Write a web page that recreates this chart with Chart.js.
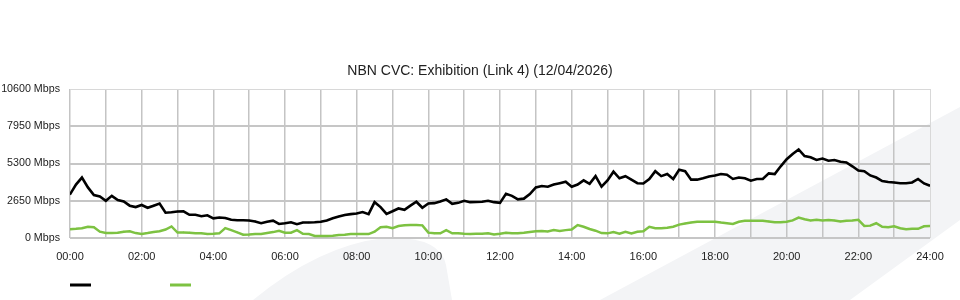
<!DOCTYPE html>
<html>
<head>
<meta charset="utf-8">
<title>NBN CVC: Exhibition (Link 4)</title>
<script src="https://cdn.jsdelivr.net/npm/chart.js@4.4.1/dist/chart.umd.min.js"></script>
<style>
  html, body { margin: 0; padding: 0; background: #fff; }
  #wrap { width: 960px; height: 300px; position: relative; }
</style>
</head>
<body>
<div id="wrap"><canvas id="cvcChart" width="960" height="300"></canvas></div>
<script>
// chart data (10 minute samples, 00:00 .. 24:00)
var chartTitle = 'NBN CVC: Exhibition (Link 4) (12/04/2026)';
var sampleMinutes = 10;
var yTicks = [0, 2650, 5300, 7950, 10600];
var xTickLabels = ['00:00', '02:00', '04:00', '06:00', '08:00', '10:00', '12:00',
                   '14:00', '16:00', '18:00', '20:00', '22:00', '24:00'];

// black series (Mbps)
var seriesA = [
  3100, 3800, 4300, 3600, 3050, 2950, 2650, 3000, 2700, 2600,
  2300, 2200, 2350, 2150, 2300, 2450, 1800, 1830, 1880, 1900,
  1650, 1650, 1550, 1620, 1400, 1460, 1420, 1300, 1260, 1260,
  1240, 1180, 1050, 1150, 1230, 1000, 1050, 1120, 980, 1100,
  1100, 1120, 1160, 1250, 1400, 1530, 1640, 1700, 1740, 1850,
  1700, 2550, 2200, 1720, 1900, 2100, 2000, 2300, 2580, 2150,
  2450, 2480, 2600, 2750, 2430, 2500, 2650, 2550, 2560, 2580,
  2650, 2550, 2500, 3150, 3000, 2750, 2800, 3130, 3600, 3700,
  3650, 3800, 3900, 4000, 3650, 3800, 4100, 3850, 4400, 3650,
  4100, 4720, 4250, 4400, 4150, 3900, 3880, 4200, 4750, 4400,
  4550, 4200, 4850, 4750, 4150, 4150, 4250, 4380, 4450, 4550,
  4500, 4200, 4300, 4250, 4080, 4200, 4200, 4600, 4550, 5100,
  5600, 5980, 6300, 5830, 5740, 5550, 5650, 5500, 5550, 5430,
  5370, 5100, 4800, 4750, 4450, 4300, 4050, 3980, 3950, 3890,
  3900, 3950, 4200, 3880, 3720
];

// green series (Mbps)
var seriesB = [
  620, 650, 690, 800, 760, 450, 350, 360, 380, 450,
  480, 350, 290, 350, 420, 480, 600, 820, 390, 400,
  380, 340, 330, 290, 300, 330, 700, 560, 400, 240,
  250, 280, 290, 360, 420, 520, 380, 380, 560, 300,
  280, 150, 140, 140, 160, 210, 230, 280, 290, 290,
  280, 450, 760, 800, 700, 850, 900, 920, 930, 900,
  380, 330, 330, 560, 330, 330, 300, 290, 300, 300,
  330, 250, 300, 380, 340, 330, 370, 430, 480, 500,
  460, 560, 500, 560, 600, 920, 800, 640, 520, 350,
  330, 420, 310, 440, 330, 450, 480, 800, 700, 700,
  730, 800, 950, 1030, 1100, 1160, 1160, 1160, 1160, 1100,
  1050, 1000, 1150, 1230, 1230, 1230, 1230, 1180, 1120, 1120,
  1160, 1250, 1450, 1330, 1250, 1300, 1240, 1280, 1250, 1180,
  1230, 1250, 1290, 860, 880, 1050, 800, 770, 830, 700,
  620, 650, 650, 830, 850
];

function toPoints(values) {
    var pts = [];
    for (var i = 0; i < values.length; i++) {
        pts.push({ x: i * sampleMinutes, y: values[i] });
    }
    return pts;
}

// light grey swoosh shapes behind the chart
const backgroundShapes = {
    id: 'backgroundShapes',
    beforeDraw(chart) {
        const ctx = chart.ctx;
        ctx.save();
        ctx.fillStyle = '#f3f4f6';
        ctx.beginPath();
        ctx.moveTo(600, 300);
        ctx.lineTo(960, 107);
        ctx.lineTo(960, 220);
        ctx.lineTo(850, 300);
        ctx.closePath();
        ctx.fill();
        ctx.beginPath();
        ctx.moveTo(253, 300);
        ctx.quadraticCurveTo(320, 245, 385, 238);
        ctx.quadraticCurveTo(440, 236, 446, 265);
        ctx.lineTo(452, 300);
        ctx.closePath();
        ctx.fill();
        ctx.restore();
    }
};

// legend: just coloured line samples, no text
const lineLegend = {
    id: 'lineLegend',
    afterDraw(chart) {
        const ctx = chart.ctx;
        const starts = [70, 170];
        ctx.save();
        ctx.lineWidth = 3;
        chart.data.datasets.forEach(function(ds, i) {
            ctx.strokeStyle = ds.borderColor;
            ctx.beginPath();
            ctx.moveTo(starts[i], 285);
            ctx.lineTo(starts[i] + 21, 285);
            ctx.stroke();
        });
        ctx.restore();
    }
};

var ctx = document.getElementById('cvcChart').getContext('2d');
var cvcChart = new Chart(ctx, {
    type: 'line',
    data: {
        datasets: [{
            label: '',
            data: toPoints(seriesA),
            borderColor: '#000000',
            backgroundColor: '#000000',
            borderWidth: 2.6,
            pointRadius: 0.8,
            pointBorderWidth: 0,
            tension: 0
        }, {
            label: '',
            data: toPoints(seriesB),
            borderColor: '#7dc242',
            backgroundColor: '#7dc242',
            borderWidth: 2.5,
            pointRadius: 0.8,
            pointBorderWidth: 0,
            tension: 0
        }]
    },
    options: {
        responsive: false,
        animation: false,
        layout: { padding: { top: 63, right: 0, left: 0, bottom: 0 } },
        plugins: {
            legend: { display: false },
            tooltip: { enabled: false },
            title: {
                display: true,
                text: chartTitle,
                color: '#222',
                font: { family: "'Liberation Sans', Arial, sans-serif", size: 14, weight: 'normal' },
                padding: { top: 0, bottom: 9.2 }
            }
        },
        scales: {
            x: {
                type: 'linear',
                min: 0,
                max: 24 * 60,
                border: { display: false },
                grid: {
                    color: function(c) { return c.tick && c.tick.value === 1440 ? '#d8d8d8' : '#c4c4c4'; },
                    lineWidth: function(c) { return c.tick && c.tick.value === 1440 ? 1 : 1.5; },
                    drawTicks: false
                },
                afterBuildTicks: function(axis) {
                    axis.ticks = [];
                    for (var m = 0; m <= 1440; m += 60) axis.ticks.push({ value: m });
                },
                afterFit: function(axis) { axis.height = 62; },
                ticks: {
                    autoSkip: false,
                    maxRotation: 0,
                    padding: 12,
                    color: '#222',
                    font: { family: "'Liberation Sans', Arial, sans-serif", size: 11 },
                    callback: function(value) {
                        return value % 120 === 0 ? xTickLabels[value / 120] : '';
                    }
                }
            },
            y: {
                min: 0,
                max: 10600,
                border: { display: false },
                grid: {
                    color: function(c) { return c.tick && c.tick.value === 10600 ? '#d8d8d8' : '#c6c6c6'; },
                    lineWidth: function(c) { return c.tick && c.tick.value === 10600 ? 1 : 2; },
                    drawTicks: false
                },
                afterBuildTicks: function(axis) {
                    axis.ticks = yTicks.map(function(v) { return { value: v }; });
                },
                afterFit: function(axis) { axis.width = 70; },
                ticks: {
                    padding: 10,
                    color: '#222',
                    font: { family: "'Liberation Sans', Arial, sans-serif", size: 10.7 },
                    callback: function(value) { return value + ' Mbps'; }
                }
            },
            // empty right-hand axis, only reserves the 30px margin
            yRight: {
                position: 'right',
                min: 0,
                max: 10600,
                border: { display: false },
                grid: { display: false, drawTicks: false },
                ticks: { display: false },
                afterFit: function(axis) { axis.width = 30; }
            }
        }
    },
    plugins: [backgroundShapes, lineLegend]
});
</script>
</body>
</html>
